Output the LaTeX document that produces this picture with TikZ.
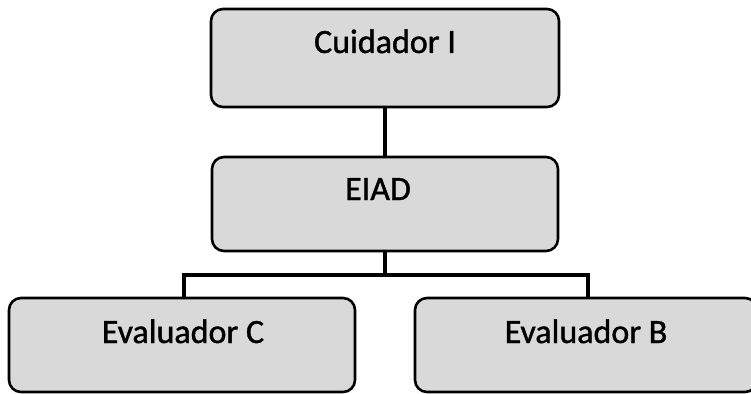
\documentclass[tikz,border=0pt]{standalone}
\usepackage{fontspec}
\setmainfont{Carlito}[FakeBold=1.2]
\begin{document}
\begin{tikzpicture}[x=1pt,y=-1pt,
  orgbox/.style={draw=black, line width=2.6pt, rounded corners=12pt, fill=black!15, inner sep=0pt},
  orgtext/.style={anchor=base, font=\fontsize{34}{40}\selectfont, inner sep=0pt},
  link/.style={draw=black, line width=4.8pt}]
\useasboundingbox (0,0) rectangle (751,393);
\clip (0,0) rectangle (751,393);
% boxes
\node[orgbox, minimum width=348pt, minimum height=98pt] (cuid) at (385,58) {};
\node[orgbox, minimum width=346pt, minimum height=94pt] (eiad) at (385,204) {};
\node[orgbox, minimum width=346pt, minimum height=94pt] (evc) at (182,345) {};
\node[orgbox, minimum width=342pt, minimum height=94pt] (evb) at (586,345) {};
% texts
\node[orgtext] (tcuid) at (385,53) {Cuidador I};
\node[orgtext] (teiad) at (378,200) {EIAD};
\node[orgtext] (tevc) at (183,343) {Evaluador C};
\node[orgtext] (tevb) at (586,343) {Evaluador B};
% connectors
\coordinate (bus) at (385,275);
\draw[link] (cuid.south) -- (eiad.north);
\draw[link] (eiad.south) -- (bus);
\draw[link] (evc.north -| 184,0) |- (bus) -| (evb.north -| 588,0);
\end{tikzpicture}
\end{document}
